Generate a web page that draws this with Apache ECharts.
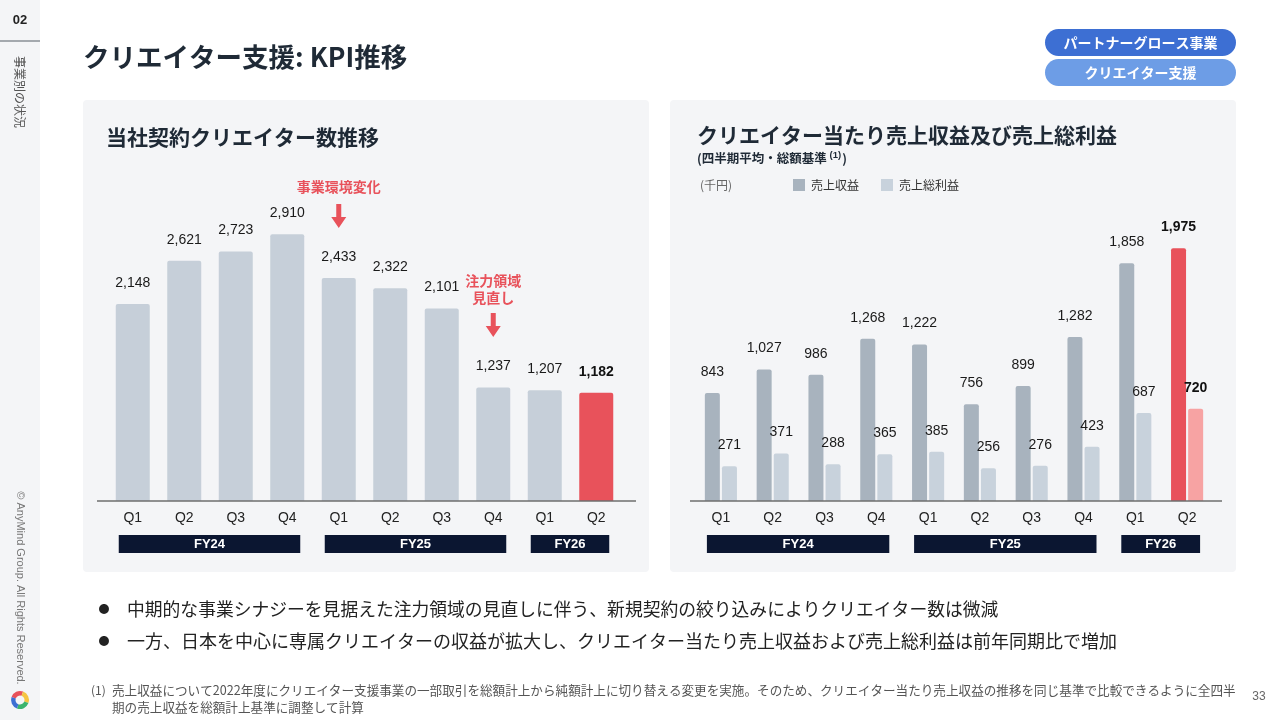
<!DOCTYPE html>
<html>
<head>
<meta charset="utf-8">
<title>クリエイター支援: KPI推移</title>
<script src="https://cdn.jsdelivr.net/npm/echarts@6/dist/echarts.min.js"></script>
<style>
  html, body { margin: 0; padding: 0; background: #fff; }
  #main { width: 1280px; height: 720px; }
</style>
</head>
<body>
<div id="main"></div>
<script>
// ---- データ ----
var quarters = ['Q1', 'Q2', 'Q3', 'Q4', 'Q1', 'Q2', 'Q3', 'Q4', 'Q1', 'Q2'];
var fiscalYears = ['FY24', 'FY25', 'FY26'];
var fyRanges = [[0, 3], [4, 7], [8, 9]];          // 各年度の四半期インデックス範囲
var creatorCounts = [2148, 2621, 2723, 2910, 2433, 2322, 2101, 1237, 1207, 1182];
var revenuePerCreator = [843, 1027, 986, 1268, 1222, 756, 899, 1282, 1858, 1975];
var grossProfitPerCreator = [271, 371, 288, 365, 385, 256, 276, 423, 687, 720];

// 重複しないカテゴリ名 (表示は Q だけ)
var categories = quarters.map(function (q, i) {
  var fy = '';
  fyRanges.forEach(function (r, k) { if (i >= r[0] && i <= r[1]) fy = fiscalYears[k]; });
  return fy + ' ' + q;
});

var NUM_FONT = "'Liberation Sans', Arial, 'Noto Sans CJK JP', sans-serif";
var JP_FONT = "'Noto Sans CJK JP', 'Noto Sans', sans-serif";
var RED = '#e8525b';

function fmt(p) { return Number(p.value).toLocaleString('en-US'); }

// 最後の棒だけ色と太字ラベルを変える
function highlightLast(arr, color) {
  return arr.map(function (v, i) {
    if (i !== arr.length - 1) return v;
    return { value: v, itemStyle: { color: color }, label: { fontWeight: 'bold', color: '#111' } };
  });
}

var dom = document.getElementById('main');
var myChart = echarts.init(dom, null, { renderer: 'canvas' });

var labelStyle = {
  show: true, position: 'top', distance: 14, formatter: fmt,
  fontFamily: NUM_FONT, fontSize: 14, color: '#1a1a1a'
};
var qAxisLabel = {
  formatter: function (v) { return v.split(' ')[1]; },
  fontFamily: NUM_FONT, fontSize: 14, color: '#222', margin: 10
};

var option = {
  animation: false,
  textStyle: { fontFamily: JP_FONT },
  grid: [
    { left: 107, right: 658, top: 226, bottom: 219 },
    { left: 695, right: 67, top: 245, bottom: 219 }
  ],
  xAxis: [
    { type: 'category', gridIndex: 0, data: categories, axisLine: { show: false },
      axisTick: { show: false }, axisLabel: qAxisLabel },
    { type: 'category', gridIndex: 1, data: categories, axisLine: { show: false },
      axisTick: { show: false }, axisLabel: qAxisLabel }
  ],
  yAxis: [
    { type: 'value', gridIndex: 0, min: 0, max: 3000, show: false },
    { type: 'value', gridIndex: 1, min: 0, max: 2000, show: false }
  ],
  legend: {
    left: 793, top: 179, padding: 0, icon: 'rect', itemWidth: 12, itemHeight: 12, itemGap: 22,
    data: ['売上収益', '売上総利益'],
    textStyle: { fontFamily: JP_FONT, fontSize: 12, color: '#333', padding: [0, 0, 0, 1] }
  },
  series: [
    {
      name: '契約クリエイター数', type: 'bar', xAxisIndex: 0, yAxisIndex: 0,
      barWidth: 34, data: highlightLast(creatorCounts, RED),
      itemStyle: { color: '#c6cfd9', borderRadius: [2, 2, 0, 0] },
      label: labelStyle
    },
    {
      name: '売上収益', type: 'bar', xAxisIndex: 1, yAxisIndex: 1,
      barWidth: 15, barGap: '14%', data: highlightLast(revenuePerCreator, RED),
      itemStyle: { color: '#a8b3be', borderRadius: [2, 2, 0, 0] },
      label: labelStyle
    },
    {
      name: '売上総利益', type: 'bar', xAxisIndex: 1, yAxisIndex: 1,
      barWidth: 15, data: highlightLast(grossProfitPerCreator, '#f7a3a3'),
      itemStyle: { color: '#c8d2dc', borderRadius: [2, 2, 0, 0] },
      label: labelStyle
    }
  ]
};
myChart.setOption(option);

// ---- スライドの装飾 (軸の位置から計算) ----
function cx(gridIdx, i) { return myChart.convertToPixel({ xAxisIndex: gridIdx }, i); }
function baseY(gridIdx) { return myChart.convertToPixel({ yAxisIndex: gridIdx }, 0); }

function txt(x, y, text, size, color, weight, align, extra) {
  var st = { text: text, fontSize: size, fill: color, fontWeight: weight || 'normal',
    fontFamily: JP_FONT, textAlign: align || 'left', textVerticalAlign: 'middle' };
  if (extra) for (var k in extra) st[k] = extra[k];
  return { type: 'text', x: x, y: y, style: st, z: 10 };
}

function arrow(x, y0) {
  return { type: 'polygon', z: 10, shape: { points: [
    [x - 2.5, y0], [x + 2.5, y0], [x + 2.5, y0 + 13], [x + 7.5, y0 + 13],
    [x, y0 + 24], [x - 7.5, y0 + 13], [x - 2.5, y0 + 13]
  ] }, style: { fill: RED } };
}

var g = [];
// サイドバー
g.push({ type: 'rect', shape: { x: 0, y: 0, width: 40, height: 720 }, style: { fill: '#f4f5f7' }, z: -10 });
g.push(txt(20, 20, '02', 13, '#222', 'bold', 'center', { fontFamily: NUM_FONT }));
g.push({ type: 'line', shape: { x1: 0, y1: 41, x2: 40, y2: 41 }, style: { stroke: '#8a8f96', lineWidth: 1.5 } });
var side = txt(20, 92, '事業別の状況', 12, '#555', 'normal', 'center');
side.rotation = -Math.PI / 2;
g.push(side);
var copy = txt(20, 588, '© AnyMind Group. All Rights Reserved.', 11, '#777', 'normal', 'center', { fontFamily: NUM_FONT });
copy.rotation = -Math.PI / 2;
g.push(copy);
// ロゴ
[['#e8525b', 200, 290], ['#f5c542', 290, 380], ['#3cb46e', 20, 110], ['#3d6fd3', 110, 200]].forEach(function (c) {
  g.push({ type: 'sector', shape: { cx: 20, cy: 700, r: 9, r0: 4.5,
    startAngle: c[1] * Math.PI / 180, endAngle: c[2] * Math.PI / 180 }, style: { fill: c[0] } });
});

// タイトル
g.push(txt(83, 57, 'クリエイター支援: KPI推移', 26.5, '#1f2a36', 'bold'));

// バッジ
g.push({ type: 'rect', shape: { x: 1045, y: 29, width: 191, height: 27, r: 13.5 }, style: { fill: '#3d6fd3' } });
g.push(txt(1140.5, 42.5, 'パートナーグロース事業', 14, '#fff', 'bold', 'center'));
g.push({ type: 'rect', shape: { x: 1045, y: 59, width: 191, height: 27, r: 13.5 }, style: { fill: '#6d9de6' } });
g.push(txt(1140.5, 72.5, 'クリエイター支援', 14, '#fff', 'bold', 'center'));

// パネル
g.push({ type: 'rect', shape: { x: 83, y: 100, width: 566, height: 472, r: 4 }, style: { fill: '#f4f5f7' }, z: -5 });
g.push({ type: 'rect', shape: { x: 670, y: 100, width: 566, height: 472, r: 4 }, style: { fill: '#f4f5f7' }, z: -5 });
g.push(txt(106, 137, '当社契約クリエイター数推移', 21, '#1f2a36', 'bold'));
g.push(txt(697, 135, 'クリエイター当たり売上収益及び売上総利益', 21, '#1f2a36', 'bold'));
g.push({ type: 'text', x: 697, y: 158, z: 10, style: {
  text: '(四半期平均・総額基準 {s|(1)})', fontSize: 12.5, fontWeight: 'bold', fill: '#1f2a36',
  fontFamily: JP_FONT, textVerticalAlign: 'middle',
  rich: { s: { fontSize: 9.5, fontWeight: 'bold', verticalAlign: 'top', padding: [0, 1, 6, 0], fontFamily: NUM_FONT } }
} });
g.push(txt(700, 185, '(千円)', 12, '#666'));

// ベースライン
g.push({ type: 'line', shape: { x1: 97, y1: baseY(0), x2: 636, y2: baseY(0) }, style: { stroke: '#6e6e6e', lineWidth: 1.5 }, z: 10 });
g.push({ type: 'line', shape: { x1: 690, y1: baseY(1), x2: 1222, y2: baseY(1) }, style: { stroke: '#6e6e6e', lineWidth: 1.5 }, z: 10 });

// 年度帯
[0, 1].forEach(function (gi) {
  fyRanges.forEach(function (r, k) {
    var x0 = cx(gi, r[0]) - 14, x1 = cx(gi, r[1]) + 13;
    g.push({ type: 'rect', shape: { x: x0, y: 535, width: x1 - x0, height: 18 }, style: { fill: '#0b1631' } });
    g.push(txt((x0 + x1) / 2, 544, fiscalYears[k], 13, '#fff', 'bold', 'center', { fontFamily: NUM_FONT }));
  });
});

// 注記と矢印
g.push(txt(cx(0, 4), 187, '事業環境変化', 14, RED, 'bold', 'center'));
g.push(arrow(cx(0, 4), 204));
g.push(txt(cx(0, 7), 281, '注力領域', 14, RED, 'bold', 'center'));
g.push(txt(cx(0, 7), 298, '見直し', 14, RED, 'bold', 'center'));
g.push(arrow(cx(0, 7), 313));

// 本文
g.push(txt(104, 609, '●', 11, '#222', 'normal', 'center'));
g.push(txt(127, 609, '中期的な事業シナジーを見据えた注力領域の見直しに伴う、新規契約の絞り込みによりクリエイター数は微減', 17.8, '#222'));
g.push(txt(104, 641, '●', 11, '#222', 'normal', 'center'));
g.push(txt(127, 641, '一方、日本を中心に専属クリエイターの収益が拡大し、クリエイター当たり売上収益および売上総利益は前年同期比で増加', 18, '#222'));

// 脚注
g.push(txt(91, 690, '(1)', 12, '#555'));
g.push(txt(112, 690, '売上収益について2022年度にクリエイター支援事業の一部取引を総額計上から純額計上に切り替える変更を実施。そのため、クリエイター当たり売上収益の推移を同じ基準で比較できるように全四半', 12.6, '#555'));
g.push(txt(112, 707, '期の売上収益を総額計上基準に調整して計算', 12.6, '#555'));
g.push(txt(1259, 697, '33', 12, '#666', 'normal', 'center', { fontFamily: NUM_FONT }));

myChart.setOption({ graphic: { elements: g } });
window.addEventListener('resize', myChart.resize);
</script>
</body>
</html>
